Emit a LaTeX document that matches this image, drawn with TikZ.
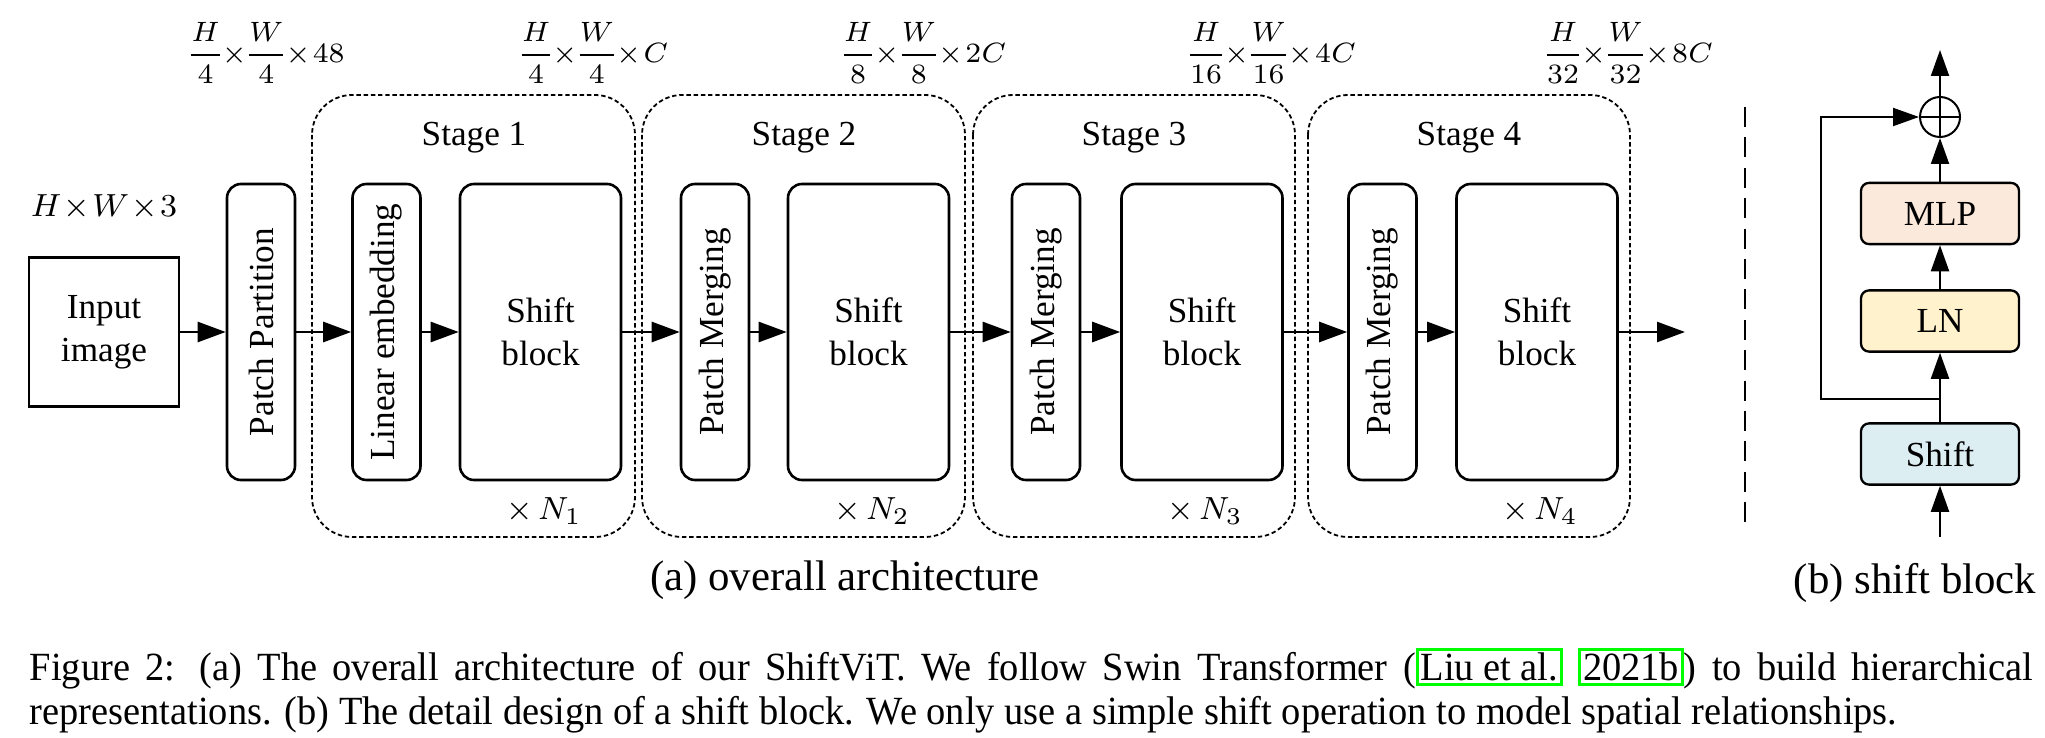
\documentclass[tikz,border=0pt]{standalone}
\usepackage{fontspec}
\setmainfont{Liberation Serif}
\newfontfamily\capfont{Liberation Serif}[FakeStretch=0.96]
\usetikzlibrary{arrows.meta}
\definecolor{mlpfill}{HTML}{FBE9DB}
\definecolor{lnfill}{HTML}{FFF2CC}
\definecolor{shiftfill}{HTML}{DDEEF3}
\definecolor{linkgreen}{HTML}{00FF00}
\newcommand{\linkbox}[1]{{\setlength{\fboxsep}{0.5pt}\setlength{\fboxrule}{0.7pt}\fcolorbox{linkgreen}{white}{#1}}}
\newcommand{\tightm}{\medmuskip=1.2mu plus 1mu minus 1mu\nulldelimiterspace=0pt\relax}
\hyphenpenalty=10000
\exhyphenpenalty=10000
\begin{document}
\begin{tikzpicture}[x=0.25pt,y=-0.25pt,
  figtext/.style={font=\fontsize{8.8}{10.75}\selectfont},
  blk/.style={draw, line width=0.65pt, rounded corners=3.5pt, inner sep=0pt, figtext, align=center},
  vblk/.style={blk, rotate=90, minimum width=74pt, minimum height=17pt},
  sblk/.style={blk, minimum width=40.25pt, minimum height=74pt},
  stagebox/.style={draw, line width=0.45pt, dash pattern=on 1.1pt off 0.7pt, rounded corners=10pt},
  flow/.style={line width=0.65pt, -{Triangle[length=7pt,width=5pt]}},
  rflow/.style={line width=0.5pt, -{Triangle[length=6.5pt,width=4.5pt]}},
  rblk/.style={draw, line width=0.58pt, rounded corners=2pt, figtext, minimum width=39.5pt, minimum height=15.3pt, inner sep=0pt},
  dimtext/.style={font=\fontsize{6.9}{8}\selectfont, inner sep=0pt},
  multext/.style={font=\fontsize{8}{9.6}\selectfont, inner sep=0pt},
  subcap/.style={font=\fontsize{10.7}{12.8}\selectfont, inner sep=0pt}
]
\useasboundingbox (0,0) rectangle (2045,738);

% stage boxes
\draw[stagebox] (312,95) rectangle (635,537);
\draw[stagebox] (642,95) rectangle (965,537);
\draw[stagebox] (973,95) rectangle (1295,537);
\draw[stagebox] (1308,95) rectangle (1630,537);

\node[figtext, inner sep=0pt] (st1) at (474,138) {Stage 1};
\node[figtext, inner sep=0pt] (st2) at (804,138) {Stage 2};
\node[figtext, inner sep=0pt] (st3) at (1134,138) {Stage 3};
\node[figtext, inner sep=0pt] (st4) at (1469,138) {Stage 4};

% input
\node[draw, line width=0.65pt, minimum width=37.5pt, minimum height=37.3pt, inner sep=0pt, figtext, align=center] (in) at (104,332) {Input\\image};
\node[font=\fontsize{8.2}{9.8}\selectfont, inner sep=0pt] (inlab) at (104,207) {$\tightm H\times W\times 3$};

% blocks
\node[vblk] (pp) at (261,332) {Patch Partition};
\node[vblk] (le) at (386.5,332) {Linear embedding};
\node[sblk] (sb1) at (540.5,332) {Shift\\block};
\node[vblk] (pm2) at (715,332) {Patch Merging};
\node[sblk] (sb2) at (868.5,332) {Shift\\block};
\node[vblk] (pm3) at (1046,332) {Patch Merging};
\node[sblk] (sb3) at (1202,332) {Shift\\block};
\node[vblk] (pm4) at (1382.5,332) {Patch Merging};
\node[sblk] (sb4) at (1537,332) {Shift\\block};
\coordinate (out) at (1685,332);

\node[multext] (n1) at (544,511) {${\times}\,N_1$};
\node[multext] (n2) at (872,511) {${\times}\,N_2$};
\node[multext] (n3) at (1205,511) {${\times}\,N_3$};
\node[multext] (n4) at (1540,511) {${\times}\,N_4$};

% arrows
\draw[flow] (in.east) -- (pp.north);
\draw[flow] (pp.south) -- (le.north);
\draw[flow] (le.south) -- (sb1.west);
\draw[flow] (sb1.east) -- (pm2.north);
\draw[flow] (pm2.south) -- (sb2.west);
\draw[flow] (sb2.east) -- (pm3.north);
\draw[flow] (pm3.south) -- (sb3.west);
\draw[flow] (sb3.east) -- (pm4.north);
\draw[flow] (pm4.south) -- (sb4.west);
\draw[flow] (sb4.east) -- (out);

% dimension labels
\node[dimtext] (d0) at (268,53) {$\tightm\displaystyle\frac{H}{4}\times\frac{W}{4}\times 48$};
\node[dimtext] (d1) at (595,53) {$\tightm\displaystyle\frac{H}{4}\times\frac{W}{4}\times C$};
\node[dimtext] (d2) at (925,53) {$\tightm\displaystyle\frac{H}{8}\times\frac{W}{8}\times 2C$};
\node[dimtext] (d3) at (1273,53) {$\tightm\displaystyle\frac{H}{16}\times\frac{W}{16}\times 4C$};
\node[dimtext] (d4) at (1630,53) {$\tightm\displaystyle\frac{H}{32}\times\frac{W}{32}\times 8C$};

% separator
\draw[line width=0.7pt, dash pattern=on 5pt off 2.6pt] (1745,107) -- (1745,526);

% shift block detail
\node[rblk, fill=mlpfill] (mlp) at (1940,213.5) {MLP};
\node[rblk, fill=lnfill] (ln) at (1940,321) {LN};
\node[rblk, fill=shiftfill] (shift) at (1940,454) {Shift};
\node[circle, draw, line width=0.5pt, minimum size=10pt, inner sep=0pt] (add) at (1940,117) {};
\draw[line width=0.5pt] (add.north) -- (add.south) (add.west) -- (add.east);
\coordinate (bin) at (1940,537);
\coordinate (top) at (1940,50);
\coordinate (skipj) at (1940,399);
\coordinate (skipl) at (1821,399);
\draw[rflow] (bin) -- (shift.south);
\draw[rflow] (shift.north) -- (ln.south);
\draw[rflow] (ln.north) -- (mlp.south);
\draw[rflow] (mlp.north) -- (add.south);
\draw[rflow] (add.north) -- (top);
\draw[rflow] (skipj) -- (skipl) |- (add.west);

% subcaptions
\node[subcap] (capa) at (845,580) {(a) overall architecture};
\node[subcap] (capb) at (1915,583) {(b) shift block};

% caption
\node[anchor=north west, inner sep=0pt, text width=500.75pt, align=justify, font=\capfont\fontsize{10}{11}\selectfont] (cap) at (29,647) {Figure 2: (a) The overall architecture of our ShiftViT. We follow Swin Transformer (\linkbox{Liu et al.} \linkbox{2021b}) to build hierarchical representations. (b) The detail design of a shift block. We only use a simple shift operation to model spatial relationships.};
\end{tikzpicture}
\end{document}
